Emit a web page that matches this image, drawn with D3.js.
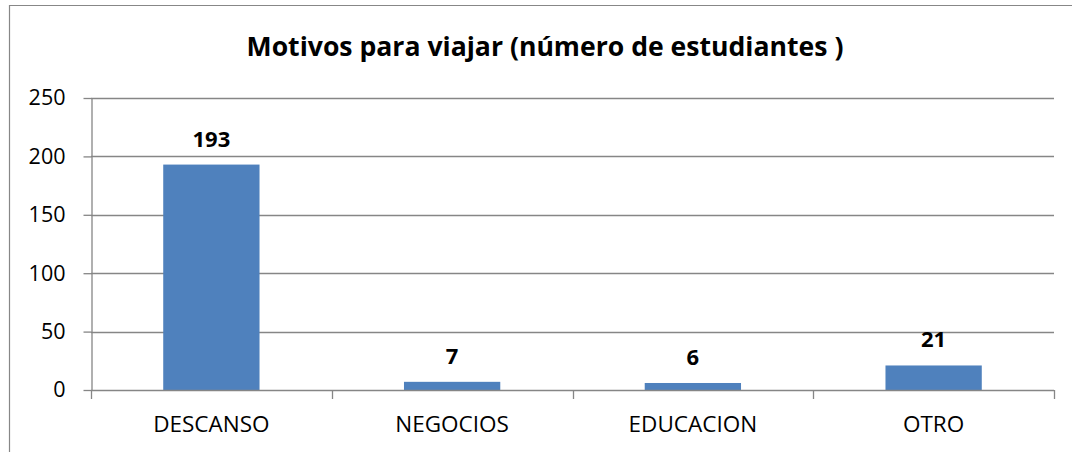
<!DOCTYPE html>
<html><head><meta charset="utf-8">
<script src="https://cdn.jsdelivr.net/npm/d3@7"></script>
<style>html,body{margin:0;background:#fff;overflow:hidden}svg{display:block}</style>
</head><body>
<script>
const categories = ["DESCANSO", "NEGOCIOS", "EDUCACION", "OTRO"];
const values = [193, 7, 6, 21];
const yTicks = [0, 50, 100, 150, 200, 250];
const title = "Motivos para viajar (número de estudiantes )";

const W = 1072, H = 452;
const svg = d3.select("body").append("svg").attr("width", W).attr("height", H);
const font = "'Open Sans', sans-serif";

// chart frame (only top and left edges are inside the view)
svg.append("path").attr("d", `M9.5,${H}V5.5H${W}`)
  .attr("fill", "none").attr("stroke", "#878787").attr("stroke-width", 1.2);

const pLeft = 91, pRight = 1054, pTop = 98, pBottom = 390;
const x = d3.scaleBand().domain(categories).range([pLeft, pRight]).paddingInner(0.6).paddingOuter(0.3);
const y = d3.scaleLinear().domain([0, 250]).range([pBottom, pTop]);

// gridlines
svg.append("g").selectAll("line").data(yTicks.filter(d => d > 0)).join("line")
  .attr("x1", pLeft).attr("x2", pRight)
  .attr("y1", d => Math.round(y(d)) + 0.5).attr("y2", d => Math.round(y(d)) + 0.5)
  .attr("stroke", "#868686").attr("stroke-width", 1.3);

// y axis
const yAxis = svg.append("g").attr("transform", `translate(${pLeft + 0.5},0)`)
  .call(d3.axisLeft(y).tickValues(yTicks).tickSize(8).tickPadding(18).tickSizeOuter(0));
yAxis.select(".domain").attr("stroke", "#868686").attr("stroke-width", 1.3);
yAxis.selectAll(".tick line").attr("stroke", "#868686").attr("stroke-width", 1.3);
yAxis.selectAll(".tick text").attr("font-family", font).attr("font-size", 21.5).attr("fill", "#000");

// bars
svg.append("g").selectAll("rect").data(values).join("rect")
  .attr("x", (d, i) => x(categories[i])).attr("width", x.bandwidth())
  .attr("y", d => y(d)).attr("height", d => y(0) - y(d))
  .attr("fill", "#4F81BD");

// x axis
const step = x.step();
const xBounds = d3.range(categories.length + 1).map(i => pLeft + i * step);
const xAxis = svg.append("g");
xAxis.append("line").attr("x1", pLeft).attr("x2", pRight)
  .attr("y1", pBottom + 0.5).attr("y2", pBottom + 0.5).attr("stroke", "#868686").attr("stroke-width", 1.3);
xAxis.selectAll("line.tk").data(xBounds).join("line").attr("class", "tk")
  .attr("x1", d => Math.round(d) + 0.5).attr("x2", d => Math.round(d) + 0.5)
  .attr("y1", pBottom).attr("y2", pBottom + 9).attr("stroke", "#868686").attr("stroke-width", 1.3);
xAxis.selectAll("text").data(categories).join("text")
  .attr("x", d => x(d) + x.bandwidth() / 2).attr("y", 432)
  .attr("text-anchor", "middle").attr("font-family", font).attr("font-size", 22.5).attr("fill", "#000")
  .text(d => d);

// data labels
svg.append("g").selectAll("text").data(values).join("text")
  .attr("x", (d, i) => x(categories[i]) + x.bandwidth() / 2).attr("y", d => y(d) - 18)
  .attr("text-anchor", "middle").attr("font-family", font).attr("font-weight", "bold")
  .attr("font-size", 22).attr("fill", "#000").text(d => d);

// title
svg.append("text").attr("x", 545).attr("y", 56).attr("text-anchor", "middle")
  .attr("font-family", font).attr("font-weight", "bold").attr("font-size", 26.6).attr("fill", "#000")
  .text(title);
</script>
</body></html>
